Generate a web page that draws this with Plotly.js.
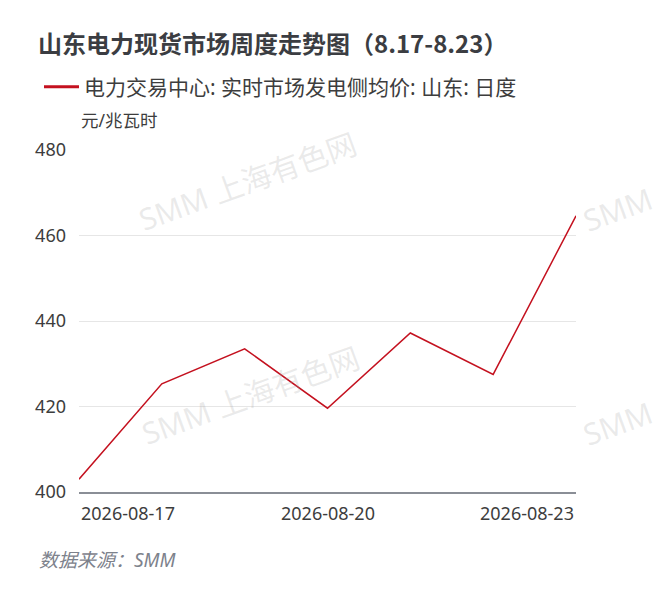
<!DOCTYPE html>
<html>
<head>
<meta charset="utf-8">
<script src="https://cdn.plot.ly/plotly-3.0.1.min.js"></script>
<style>
  html, body { margin: 0; padding: 0; background: #fff; }
  #chart { width: 658px; height: 597px; }
</style>
</head>
<body>
<div id="chart"></div>
<script>
// ---- data ----
const dates = ['2026-08-17', '2026-08-18', '2026-08-19', '2026-08-20', '2026-08-21', '2026-08-22', '2026-08-23'];
const prices = [403.0, 425.3, 433.5, 419.6, 437.2, 427.5, 464.6];
const seriesName = '电力交易中心: 实时市场发电侧均价: 山东: 日度';
const xTickLabels = ['2026-08-17', '2026-08-20', '2026-08-23'];
const yTickValues = [400, 420, 440, 460, 480];
const titleText = '山东电力现货市场周度走势图（8.17-8.23）';
const unitText = '元/兆瓦时';
const sourceText = '数据来源：SMM';

const FONT = "'Noto Sans', 'Noto Sans CJK SC', sans-serif";
const RED = '#c4111f';
const W = 658, H = 597;
const L = 79, R = 82, T = 150, B = 105;
const pw = W - L - R, ph = H - T - B;
const px = v => (v - L) / pw;
const py = v => (H - B - v) / ph;

const traces = [
  {
    x: dates, y: prices, type: 'scatter', mode: 'lines',
    line: { color: RED, width: 1.5 },
    showlegend: false, hoverinfo: 'skip'
  },
  {
    x: [null], y: [null], type: 'scatter', mode: 'lines',
    name: seriesName,
    line: { color: RED, width: 3 },
    showlegend: true, hoverinfo: 'skip'
  }
];

const anchors = ['left', 'center', 'right'];
const annotations = [];
xTickLabels.forEach((d, i) => {
  annotations.push({
    x: d, xref: 'x', y: py(513), yref: 'paper',
    text: d, showarrow: false, xanchor: anchors[i], yanchor: 'middle',
    font: { family: FONT, size: 18, color: '#3d3d3d' }
  });
});
annotations.push({
  x: 0, xref: 'paper', y: py(120), yref: 'paper',
  text: unitText, showarrow: false, xanchor: 'left', yanchor: 'middle',
  font: { family: FONT, size: 17.5, color: '#3d3d3d' }
});
annotations.push({
  x: px(37), xref: 'paper', y: py(560), yref: 'paper',
  text: '<i>' + sourceText + '</i>', showarrow: false, xanchor: 'left', yanchor: 'middle',
  font: { family: FONT, size: 19, color: '#7d828c' }
});
// watermarks
const wm = [
  { x: 247, y: 181, t: 'SMM 上海有色网' },
  { x: 250, y: 395, t: 'SMM 上海有色网' },
  { x: 617, y: 209, t: 'SMM' },
  { x: 617, y: 423, t: 'SMM' }
];
wm.forEach(w => annotations.push({
  x: px(w.x), xref: 'paper', y: py(w.y), yref: 'paper',
  text: w.t, showarrow: false, xanchor: 'center', yanchor: 'middle',
  textangle: -20,
  font: { family: FONT, size: 30, color: 'rgba(160,160,160,0.22)' }
}));

const layout = {
  width: W, height: H,
  margin: { l: L, r: R, t: T, b: B },
  paper_bgcolor: '#ffffff', plot_bgcolor: '#ffffff',
  title: {
    text: '<b>' + titleText + '</b>',
    xref: 'container', yref: 'container',
    x: 38 / W, xanchor: 'left',
    y: 1 - 45 / H, yanchor: 'middle',
    font: { family: "'Noto Sans CJK SC', sans-serif", size: 24, color: '#3b3d42' }
  },
  showlegend: true,
  legend: {
    x: px(39), xanchor: 'left', y: py(87), yanchor: 'middle',
    orientation: 'h',
    itemwidth: 35,
    font: { family: FONT, size: 21, color: '#3d3d3d' },
    bgcolor: 'rgba(0,0,0,0)'
  },
  xaxis: {
    type: 'date',
    range: [dates[0], dates[dates.length - 1]],
    showgrid: false, zeroline: false,
    showline: true, linecolor: '#8a8e96', linewidth: 1.5,
    ticks: '', showticklabels: false,
    tickvals: xTickLabels
  },
  yaxis: {
    range: [400, 480],
    tickvals: yTickValues,
    showgrid: true, gridcolor: '#e6e6e6', gridwidth: 1,
    zeroline: false, showline: false, ticks: '',
    ticklabelstandoff: 12,
    tickfont: { family: FONT, size: 18, color: '#3d3d3d' }
  },
  annotations: annotations,
  hovermode: false
};

Plotly.newPlot('chart', traces, layout, { displayModeBar: false, staticPlot: true });
</script>
</body>
</html>
